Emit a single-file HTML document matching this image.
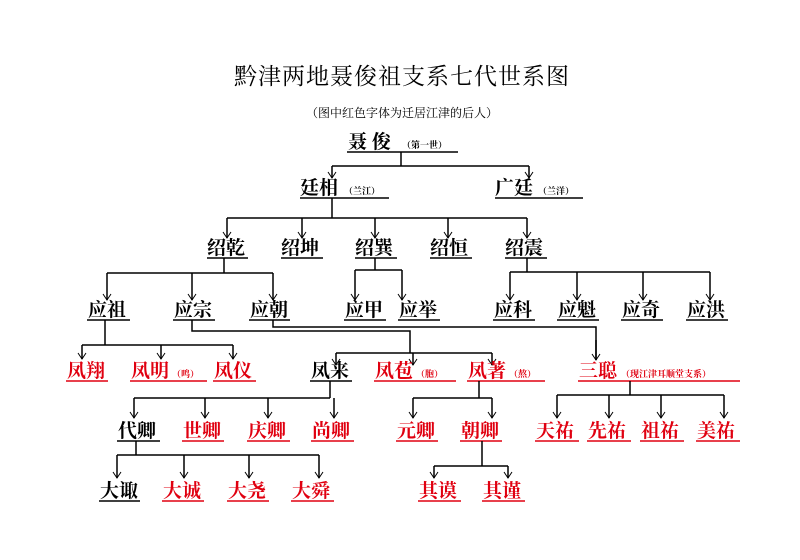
<!DOCTYPE html>
<html><head><meta charset="utf-8"><style>
html,body{margin:0;padding:0;background:#fff;}
svg{display:block;}
text{font-family:"Liberation Serif","Noto Serif CJK SC",serif;}
.n{font-size:19px;font-weight:700;}
.s{font-size:9px;font-weight:700;}
.r{fill:#e00010;}
.b{fill:#000;}
</style></head><body>
<svg width="800" height="560" viewBox="0 0 800 560" xmlns="http://www.w3.org/2000/svg">
<defs>
<marker id="a" markerWidth="10" markerHeight="10" refX="5" refY="9" orient="0" markerUnits="userSpaceOnUse">
<polyline points="1,3 5,9 9,3" fill="none" stroke="#000" stroke-width="1"/>
</marker>
</defs>
<text x="402" y="84" text-anchor="middle" style="font-size:23px;letter-spacing:1px" class="b">黔津两地聂俊祖支系七代世系图</text>
<text x="402" y="117" text-anchor="middle" style="font-size:12px" class="b">（图中红色字体为迁居江津的后人）</text>

<g stroke="#000" stroke-width="1.6" fill="none">
<!-- underlines black -->
<line x1="347" y1="152" x2="458" y2="152"/>
<line x1="300" y1="198" x2="389" y2="198"/>
<line x1="495" y1="198" x2="583" y2="198"/>
<line x1="207" y1="258" x2="248" y2="258"/>
<line x1="281" y1="258" x2="323" y2="258"/>
<line x1="355" y1="258" x2="397" y2="258"/>
<line x1="430" y1="258" x2="472" y2="258"/>
<line x1="505" y1="258" x2="547" y2="258"/>
<line x1="87" y1="320" x2="130" y2="320"/>
<line x1="173" y1="320" x2="215" y2="320"/>
<line x1="249" y1="320" x2="290" y2="320"/>
<line x1="344" y1="320" x2="386" y2="320"/>
<line x1="398" y1="320" x2="440" y2="320"/>
<line x1="493" y1="320" x2="535" y2="320"/>
<line x1="557" y1="320" x2="599" y2="320"/>
<line x1="621" y1="320" x2="663" y2="320"/>
<line x1="686" y1="320" x2="728" y2="320"/>
<line x1="310" y1="381" x2="352" y2="381"/>
<line x1="117" y1="441" x2="160" y2="441"/>
<line x1="99" y1="501" x2="140" y2="501"/>
</g>
<g stroke="#e00010" stroke-width="1.6" fill="none">
<line x1="66" y1="381" x2="108" y2="381"/>
<line x1="130" y1="381" x2="207" y2="381"/>
<line x1="213" y1="381" x2="256" y2="381"/>
<line x1="374" y1="381" x2="456" y2="381"/>
<line x1="467" y1="381" x2="545" y2="381"/>
<line x1="578" y1="381" x2="740" y2="381"/>
<line x1="182" y1="441" x2="224" y2="441"/>
<line x1="247" y1="441" x2="290" y2="441"/>
<line x1="311" y1="441" x2="354" y2="441"/>
<line x1="396" y1="441" x2="438" y2="441"/>
<line x1="460" y1="441" x2="502" y2="441"/>
<line x1="535" y1="441" x2="579" y2="441"/>
<line x1="587" y1="441" x2="631" y2="441"/>
<line x1="640" y1="441" x2="684" y2="441"/>
<line x1="696" y1="441" x2="740" y2="441"/>
<line x1="162" y1="501" x2="204" y2="501"/>
<line x1="227" y1="501" x2="269" y2="501"/>
<line x1="291" y1="501" x2="334" y2="501"/>
<line x1="418" y1="501" x2="461" y2="501"/>
<line x1="482" y1="501" x2="525" y2="501"/>
</g>

<g stroke="#000" stroke-width="1.5" fill="none">
<!-- 聂俊 -->
<line x1="401" y1="152" x2="401" y2="166"/>
<line x1="332" y1="166" x2="529" y2="166"/>
<line x1="332" y1="166" x2="332" y2="178" marker-end="url(#a)"/>
<line x1="529" y1="166" x2="529" y2="178" marker-end="url(#a)"/>
<!-- 廷相 -->
<line x1="332" y1="198" x2="332" y2="218"/>
<line x1="227" y1="218" x2="527" y2="218"/>
<line x1="227" y1="218" x2="227" y2="238" marker-end="url(#a)"/>
<line x1="302" y1="218" x2="302" y2="238" marker-end="url(#a)"/>
<line x1="375" y1="218" x2="375" y2="238" marker-end="url(#a)"/>
<line x1="448" y1="218" x2="448" y2="238" marker-end="url(#a)"/>
<line x1="527" y1="218" x2="527" y2="238" marker-end="url(#a)"/>
<!-- 绍乾 -->
<line x1="224" y1="258" x2="224" y2="273"/>
<line x1="107" y1="273" x2="273" y2="273"/>
<line x1="107" y1="273" x2="107" y2="300" marker-end="url(#a)"/>
<line x1="192" y1="273" x2="192" y2="300" marker-end="url(#a)"/>
<line x1="273" y1="273" x2="273" y2="300" marker-end="url(#a)"/>
<!-- 绍巽 -->
<line x1="375" y1="258" x2="375" y2="270"/>
<line x1="355" y1="270" x2="402" y2="270"/>
<line x1="355" y1="270" x2="355" y2="300" marker-end="url(#a)"/>
<line x1="402" y1="270" x2="402" y2="300" marker-end="url(#a)"/>
<!-- 绍震 -->
<line x1="527" y1="258" x2="527" y2="272"/>
<line x1="510" y1="272" x2="710" y2="272"/>
<line x1="510" y1="272" x2="510" y2="300" marker-end="url(#a)"/>
<line x1="577" y1="272" x2="577" y2="300" marker-end="url(#a)"/>
<line x1="643" y1="272" x2="643" y2="300" marker-end="url(#a)"/>
<line x1="710" y1="272" x2="710" y2="300" marker-end="url(#a)"/>
<!-- 应祖 -->
<line x1="105" y1="320" x2="105" y2="345"/>
<line x1="82" y1="345" x2="233" y2="345"/>
<line x1="82" y1="345" x2="82" y2="359" marker-end="url(#a)"/>
<line x1="161" y1="345" x2="161" y2="359" marker-end="url(#a)"/>
<line x1="233" y1="345" x2="233" y2="359" marker-end="url(#a)"/>
<!-- 应宗 -> 凤来 etc -->
<polyline points="192,320 192,331 410,331 410,353"/>
<line x1="336" y1="353" x2="492" y2="353"/>
<line x1="336" y1="353" x2="336" y2="365" marker-end="url(#a)"/>
<line x1="413" y1="353" x2="413" y2="365" marker-end="url(#a)"/>
<line x1="492" y1="353" x2="492" y2="365" marker-end="url(#a)"/>
<!-- 应朝 -> 三聪 -->
<polyline points="273,320 273,327 596,327 596,360"/>
<line x1="596" y1="340" x2="596" y2="360" marker-end="url(#a)"/>
<!-- 凤来 -->
<line x1="330" y1="381" x2="330" y2="398"/>
<line x1="134" y1="398" x2="330" y2="398"/>
<line x1="134" y1="398" x2="134" y2="418" marker-end="url(#a)"/>
<line x1="205" y1="398" x2="205" y2="418" marker-end="url(#a)"/>
<line x1="268" y1="398" x2="268" y2="418" marker-end="url(#a)"/>
<line x1="334" y1="398" x2="334" y2="418" marker-end="url(#a)"/>
<!-- 凤著 -->
<line x1="479" y1="381" x2="479" y2="398"/>
<line x1="413" y1="398" x2="492" y2="398"/>
<line x1="413" y1="398" x2="413" y2="418" marker-end="url(#a)"/>
<line x1="492" y1="398" x2="492" y2="418" marker-end="url(#a)"/>
<!-- 三聪 -->
<line x1="630" y1="381" x2="630" y2="395"/>
<line x1="557" y1="395" x2="724" y2="395"/>
<line x1="557" y1="395" x2="557" y2="418" marker-end="url(#a)"/>
<line x1="609" y1="395" x2="609" y2="418" marker-end="url(#a)"/>
<line x1="661" y1="395" x2="661" y2="418" marker-end="url(#a)"/>
<line x1="724" y1="395" x2="724" y2="418" marker-end="url(#a)"/>
<!-- 代卿 -->
<line x1="136" y1="441" x2="136" y2="455"/>
<line x1="117" y1="455" x2="319" y2="455"/>
<line x1="117" y1="455" x2="117" y2="478" marker-end="url(#a)"/>
<line x1="184" y1="455" x2="184" y2="478" marker-end="url(#a)"/>
<line x1="249" y1="455" x2="249" y2="478" marker-end="url(#a)"/>
<line x1="319" y1="455" x2="319" y2="478" marker-end="url(#a)"/>
<!-- 朝卿 -->
<line x1="482" y1="441" x2="482" y2="466"/>
<line x1="434" y1="466" x2="508" y2="466"/>
<line x1="434" y1="466" x2="434" y2="478" marker-end="url(#a)"/>
<line x1="508" y1="466" x2="508" y2="478" marker-end="url(#a)"/>
</g>

<!-- text row 1-4 (black) -->
<g class="b">
<text x="348" y="148" class="n">聂 俊</text><text x="402" y="148" class="s">（第一世）</text>
<text x="300" y="194" class="n">廷相</text><text x="344" y="194" class="s">（兰江）</text>
<text x="495" y="194" class="n">广廷</text><text x="538" y="194" class="s">（兰洋）</text>
<text x="207" y="254" class="n">绍乾</text>
<text x="281" y="254" class="n">绍坤</text>
<text x="355" y="254" class="n">绍巽</text>
<text x="430" y="254" class="n">绍恒</text>
<text x="505" y="254" class="n">绍震</text>
<text x="88" y="316" class="n">应祖</text>
<text x="174" y="316" class="n">应宗</text>
<text x="250" y="316" class="n">应朝</text>
<text x="345" y="316" class="n">应甲</text>
<text x="399" y="316" class="n">应举</text>
<text x="494" y="316" class="n">应科</text>
<text x="558" y="316" class="n">应魁</text>
<text x="622" y="316" class="n">应奇</text>
<text x="687" y="316" class="n">应洪</text>
<text x="311" y="377" class="n">凤来</text>
<text x="118" y="437" class="n">代卿</text>
<text x="100" y="497" class="n">大诹</text>
</g>
<g class="r">
<text x="67" y="377" class="n">凤翔</text>
<text x="131" y="377" class="n">凤明</text><text x="172" y="377" class="s">（鸣）</text>
<text x="214" y="377" class="n">凤仪</text>
<text x="375" y="377" class="n">凤苞</text><text x="416" y="377" class="s">（胞）</text>
<text x="468" y="377" class="n">凤著</text><text x="509" y="377" class="s">（熬）</text>
<text x="579" y="377" class="n">三聪</text><text x="621" y="377" class="s">（现江津耳顺堂支系）</text>
<text x="183" y="437" class="n">世卿</text>
<text x="248" y="437" class="n">庆卿</text>
<text x="312" y="437" class="n">尚卿</text>
<text x="397" y="437" class="n">元卿</text>
<text x="461" y="437" class="n">朝卿</text>
<text x="536" y="437" class="n">天祐</text>
<text x="588" y="437" class="n">先祐</text>
<text x="641" y="437" class="n">祖祐</text>
<text x="697" y="437" class="n">美祐</text>
<text x="163" y="497" class="n">大诚</text>
<text x="228" y="497" class="n">大尧</text>
<text x="292" y="497" class="n">大舜</text>
<text x="419" y="497" class="n">其谟</text>
<text x="483" y="497" class="n">其谨</text>
</g>
</svg>
</body></html>
